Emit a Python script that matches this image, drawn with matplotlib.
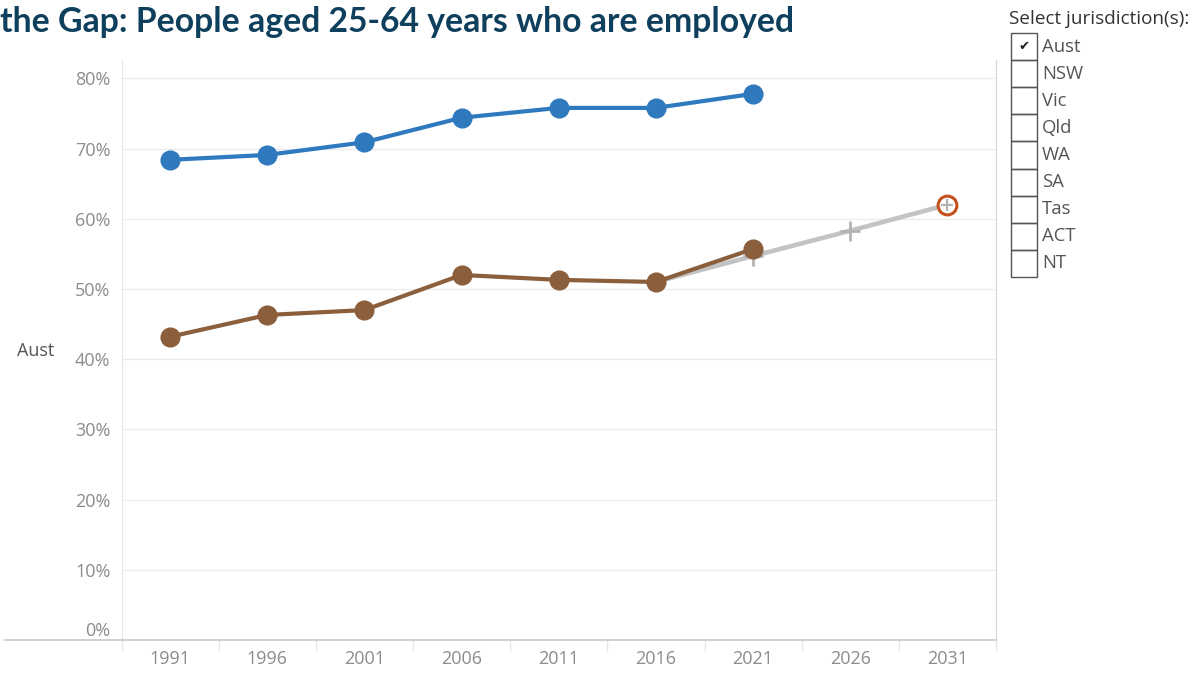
import matplotlib
matplotlib.use("Agg")
import matplotlib.pyplot as plt
from matplotlib.patches import Rectangle
from matplotlib.lines import Line2D

# ---- data -------------------------------------------------------------
years = ["1991", "1996", "2001", "2006", "2011", "2016", "2021", "2026", "2031"]
actual_years = ["1991", "1996", "2001", "2006", "2011", "2016", "2021"]
non_indigenous = [68.4, 69.1, 70.9, 74.4, 75.8, 75.8, 77.8]
indigenous = [43.2, 46.3, 47.0, 52.0, 51.3, 51.0, 55.7]
trajectory_years = ["2016", "2021", "2026", "2031"]
trajectory = [51.0, 54.7, 58.3, 62.0]
target_year = "2031"
target_value = 62.0
y_ticks = [0, 10, 20, 30, 40, 50, 60, 70, 80]
jurisdictions = ["Aust", "NSW", "Vic", "Qld", "WA", "SA", "Tas", "ACT", "NT"]
selected = ["Aust"]
row_label = "Aust"
title = "the Gap: People aged 25-64 years who are employed"

# ---- style ------------------------------------------------------------
BLUE = "#2f79be"
BROWN = "#8b5e3c"
GREY_LINE = "#c3c3c3"
GREY_PLUS = "#b3b3b3"
TARGET = "#c4501e"
TICK_TXT = "#8c8c8c"
TITLE_C = "#0e3f5c"
FONT = ["Open Sans", "DejaVu Sans"]

W, H = 1199, 673
fig = plt.figure(figsize=(W / 100, H / 100), dpi=100)
fig.patch.set_facecolor("white")

def fx(px):
    return px / W

def fy(py):
    return 1 - py / H

ax_l, ax_r, ax_t, ax_b = 121.5, 996, 60, 640
ax = fig.add_axes([fx(ax_l), fy(ax_b), fx(ax_r - ax_l), (ax_b - ax_t) / H])

idx = {y: i for i, y in enumerate(years)}
ax.set_xlim(-0.5, len(years) - 0.5)
ax.set_ylim(0, (ax_b - ax_t) / 7.02)

# gridlines
for v in y_ticks[1:]:
    ax.axhline(v, color="#ececec", lw=1.0, zorder=0)

# trajectory to target
tx = [idx[y] for y in trajectory_years]
ax.plot(tx, trajectory, color=GREY_LINE, lw=3.3, zorder=2, solid_capstyle="round")
ax.plot(tx[1:], trajectory[1:], ls="none", marker="+", ms=14.5, mew=2.0,
        color=GREY_PLUS, zorder=2)

# actual series
ax_x = [idx[y] for y in actual_years]
ax.plot(ax_x, non_indigenous, color=BLUE, lw=3, marker="o", ms=13.5,
        zorder=4, solid_capstyle="round")
ax.plot(ax_x, indigenous, color=BROWN, lw=3, marker="o", ms=13.5,
        zorder=4, solid_capstyle="round")

# target marker
ax.plot([idx[target_year]], [target_value], ls="none", marker="o", ms=13.5,
        mfc="white", mec=TARGET, mew=2.2, zorder=5)
ax.plot([idx[target_year]], [target_value], ls="none", marker="+", ms=8,
        mew=1.6, color=GREY_PLUS, zorder=6)

# axes styling
ax.spines["top"].set_visible(False)
ax.spines["left"].set_color("#e4e4e4")
ax.spines["right"].set_color("#d4d4d4")
ax.spines["bottom"].set_color("#c8c8c8")
ax.spines["bottom"].set_linewidth(1.2)

ax.set_yticks(y_ticks)
ax.set_yticklabels([f"{v}%" for v in y_ticks], color=TICK_TXT, fontsize=13,
                   family=FONT)
ax.tick_params(axis="y", length=0, pad=8)
ax.get_yticklabels()[0].set_va("bottom")
ax.set_xticks(range(len(years)))
ax.set_xticklabels(years, color=TICK_TXT, fontsize=13, family=FONT)
ax.tick_params(axis="x", length=0, pad=7)
# band separators under the axis
ax.set_xticks([i - 0.5 for i in range(len(years) + 1)], minor=True)
ax.tick_params(axis="x", which="minor", length=8, color="#e6e6e6", width=1)

# axis baseline extended to the left edge
fig.add_artist(Line2D([fx(5), fx(ax_l)], [fy(ax_b), fy(ax_b)],
                      color="#c8c8c8", lw=1.2))

# row header
fig.text(fx(17), fy(351), row_label, color="#555555", fontsize=13,
         family=FONT, va="center", ha="left")

# title
fig.text(fx(0), fy(22), title, color=TITLE_C, fontsize=24.3, fontweight="bold",
         family=["Lato", "DejaVu Sans"], va="center", ha="left")

# jurisdiction selector
fig.text(fx(1009), fy(19), "Select jurisdiction(s):", color="#333333",
         fontsize=13.6, family=FONT, va="center", ha="left")
box_l, box_w, box_top, box_h = 1011, 26, 33, 27.1
for i, name in enumerate(jurisdictions):
    top = box_top + i * box_h
    fig.add_artist(Rectangle((fx(box_l), fy(top + box_h)), fx(box_w),
                             box_h / H, fill=False, ec="#555555", lw=1.0))
    fig.text(fx(1042), fy(top + box_h / 2), name, color="#555555",
             fontsize=13.3, family=FONT, va="center", ha="left")
    if name in selected:
        fig.text(fx(box_l + box_w / 2), fy(top + box_h / 2), "\u2714",
                 color="#222222", fontsize=9.5, family=["DejaVu Sans"],
                 va="center", ha="center")

fig.savefig("out.png", dpi=100, facecolor="white")
